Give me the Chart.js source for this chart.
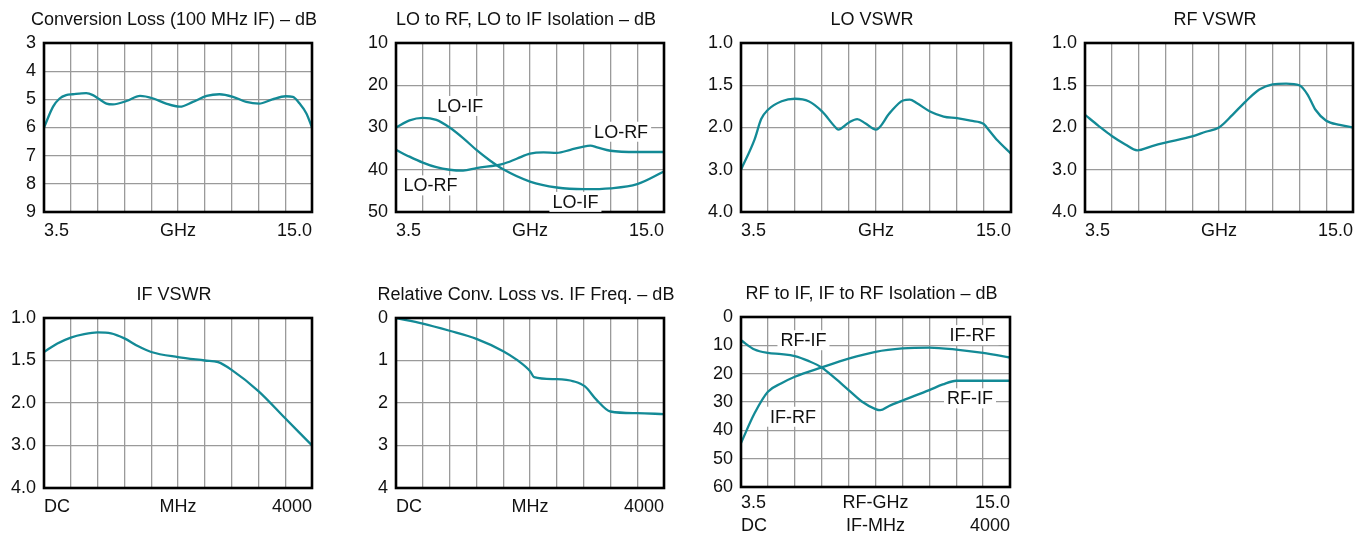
<!DOCTYPE html>
<html>
<head>
<meta charset="utf-8">
<script src="https://cdn.jsdelivr.net/npm/chart.js@4/dist/chart.umd.min.js"></script>
<style>
  body { margin: 0; background: #fff; width: 1364px; height: 535px; position: relative; overflow: hidden; }
  .box { position: absolute; }
</style>
</head>
<body>
<div class="box" id="b1"><canvas id="c1"></canvas></div>
<div class="box" id="b2"><canvas id="c2"></canvas></div>
<div class="box" id="b3"><canvas id="c3"></canvas></div>
<div class="box" id="b4"><canvas id="c4"></canvas></div>
<div class="box" id="b5"><canvas id="c5"></canvas></div>
<div class="box" id="b6"><canvas id="c6"></canvas></div>
<div class="box" id="b7"><canvas id="c7"></canvas></div>
<script>
// x grid: 3.5 - 15.0 GHz in 10 divisions, IF axis DC - 4000 MHz
const ghzGrid = [3.5, 4.65, 5.8, 6.95, 8.1, 9.25, 10.4, 11.55, 12.7, 13.85, 15.0];
const vswrTicks = [1.0, 1.5, 2.0, 3.0, 4.0];

// Conversion loss (100 MHz IF), dB
const convGhz = [3.5, 3.89, 4.17, 4.45, 4.74, 5.31, 5.6, 5.86, 6.18, 6.46, 7.04, 7.62, 8.19, 8.74, 9.33, 9.89, 10.48, 11.03, 11.61, 12.18, 12.73, 13.3, 13.87, 14.18, 14.47, 14.76, 15.0];
const convLoss = [6.0, 5.26, 4.97, 4.85, 4.82, 4.78, 4.85, 4.99, 5.15, 5.18, 5.06, 4.88, 4.97, 5.15, 5.26, 5.09, 4.88, 4.82, 4.91, 5.09, 5.15, 5.0, 4.89, 4.91, 5.15, 5.5, 6.0];

// LO-IF / LO-RF isolation, dB
const loIfGhz = [3.5, 4.08, 4.65, 5.23, 5.8, 6.38, 6.95, 7.53, 8.1, 9.25, 10.4, 11.55, 12.7, 13.85, 15.0];
const loIfIso = [30.0, 28.3, 27.7, 28.2, 30.0, 32.5, 35.3, 37.8, 39.9, 42.8, 44.2, 44.6, 44.4, 43.4, 40.4];
const loRfGhz = [3.5, 4.08, 4.65, 5.23, 5.8, 6.38, 6.95, 8.1, 8.68, 9.25, 9.83, 10.4, 10.98, 11.55, 11.84, 12.13, 12.7, 13.85, 15.0];
const loRfIso = [35.3, 36.9, 38.3, 39.4, 40.0, 40.2, 39.6, 38.6, 37.4, 36.2, 35.9, 36.0, 35.3, 34.5, 34.3, 34.7, 35.5, 35.8, 35.8];

// LO VSWR
const loVswrGhz = [3.5, 4.08, 4.36, 4.65, 5.23, 5.8, 6.38, 6.95, 7.53, 7.64, 8.1, 8.45, 8.79, 9.25, 9.83, 10.4, 10.69, 10.98, 11.55, 12.13, 12.7, 13.28, 13.85, 13.97, 14.43, 15.0];
const loVswr = [3.0, 2.28, 1.9, 1.79, 1.69, 1.66, 1.69, 1.81, 2.0, 2.05, 1.94, 1.9, 1.95, 2.05, 1.83, 1.68, 1.67, 1.71, 1.81, 1.87, 1.89, 1.92, 1.96, 2.0, 2.31, 2.62];

// RF VSWR
const rfVswrGhz = [3.5, 4.08, 4.65, 5.23, 5.74, 6.38, 6.95, 8.1, 8.68, 9.25, 9.83, 10.4, 10.98, 11.55, 12.13, 12.7, 13.05, 13.39, 13.85, 14.43, 15.0];
const rfVswr = [1.85, 1.98, 2.2, 2.4, 2.54, 2.44, 2.36, 2.21, 2.1, 2.0, 1.85, 1.69, 1.55, 1.49, 1.48, 1.5, 1.61, 1.79, 1.92, 1.97, 2.0];

// IF VSWR
const ifVswrMhz = [0, 200, 400, 600, 800, 1000, 1200, 1400, 1600, 2000, 2400, 2600, 2800, 3200, 3600, 4000];
const ifVswr = [1.4, 1.3, 1.23, 1.19, 1.17, 1.18, 1.24, 1.33, 1.4, 1.46, 1.5, 1.52, 1.61, 1.86, 2.36, 3.0];

// relative conversion loss vs IF, dB
const relMhz = [0, 400, 800, 1200, 1600, 1800, 2000, 2060, 2400, 2650, 2820, 2990, 3200, 3600, 4000];
const relLoss = [0, 0.13, 0.3, 0.49, 0.78, 0.98, 1.25, 1.39, 1.44, 1.49, 1.61, 1.92, 2.2, 2.24, 2.26];

// RF-IF / IF-RF isolation, dB
const rfIfGhz = [3.5, 4.08, 4.65, 5.23, 5.8, 6.38, 6.95, 7.53, 8.1, 8.68, 9.25, 9.45, 9.83, 10.4, 11.55, 12.13, 12.7, 13.85, 15.0];
const rfIfIso = [8.2, 11.5, 12.7, 13.1, 13.8, 15.5, 17.8, 21.7, 25.8, 29.9, 32.5, 32.9, 31.4, 29.5, 25.8, 23.8, 22.5, 22.5, 22.5];
const ifRfGhz = [3.5, 4.08, 4.65, 5.23, 5.8, 6.95, 8.1, 9.25, 10.4, 11.55, 12.7, 13.85, 15.0];
const ifRfIso = [44.5, 34.0, 26.4, 23.4, 21.1, 17.8, 14.7, 12.3, 11.1, 10.8, 11.5, 12.7, 14.3];

// curve names written inside the plots
const loIsoNotes = [
  { text: 'LO-IF', x: 6.26, y: 24.9 },
  { text: 'LO-RF', x: 13.16, y: 31.0 },
  { text: 'LO-RF', x: 4.98, y: 43.7 },
  { text: 'LO-IF', x: 11.2, y: 47.6 }
];
const rfIsoNotes = [
  { text: 'RF-IF', x: 6.17, y: 8.2 },
  { text: 'IF-RF', x: 13.4, y: 6.4 },
  { text: 'RF-IF', x: 13.29, y: 28.7 },
  { text: 'IF-RF', x: 5.72, y: 35.2 }
];

const teal = '#138a96';
const FONT = "'Liberation Sans', Arial, sans-serif";
const FS = 18;
Chart.defaults.font.family = FONT;
Chart.defaults.font.size = FS;
Chart.defaults.color = '#111';

function vswrPos(v) {
  for (let i = 0; i < vswrTicks.length - 1; i++) {
    const a = vswrTicks[i], b = vswrTicks[i + 1];
    if (v <= b) return i + (v - a) / (b - a);
  }
  return vswrTicks.length - 1;
}

const framePlugin = {
  id: 'frame',
  afterDatasetsDraw(chart) {
    const a = chart.chartArea, ctx = chart.ctx;
    ctx.save();
    ctx.strokeStyle = '#000';
    ctx.lineWidth = 2.6;
    ctx.strokeRect(a.left, a.top, a.right - a.left, a.bottom - a.top);
    ctx.restore();
  }
};

const notePlugin = {
  id: 'notes',
  afterDatasetsDraw(chart, args, opts) {
    const items = opts.items || [];
    const ctx = chart.ctx;
    ctx.save();
    ctx.font = FS + 'px ' + FONT;
    ctx.textAlign = 'center';
    ctx.textBaseline = 'middle';
    items.forEach(n => {
      const x = chart.scales.x.getPixelForValue(n.x);
      const y = chart.scales.y.getPixelForValue(n.y);
      const w = ctx.measureText(n.text).width;
      ctx.fillStyle = '#fff';
      ctx.fillRect(x - w / 2 - 3, y - 10, w + 6, 20);
      ctx.fillStyle = '#111';
      ctx.fillText(n.text, x, y + 1);
    });
    ctx.restore();
  }
};

// y axis width, empty right axis (keeps the title centred a bit left of the plot), title block height
const YW = 40, RW = 32, TH = 34;

function makeChart(n, rect, cfg) {
  const xh = cfg.xh || 30;
  const box = document.getElementById('b' + n);
  box.style.left = (rect.l - YW) + 'px';
  box.style.top = (rect.t - TH) + 'px';
  box.style.width = (rect.r - rect.l + YW + RW) + 'px';
  box.style.height = (TH + rect.b - rect.t + xh) + 'px';

  let xScale;
  if (cfg.xType === 'mhz') {
    xScale = {
      type: 'linear', min: 0, max: 4000,
      ticks: { stepSize: 400, autoSkip: false, maxRotation: 0, align: 'inner', padding: 8,
        callback: v => v === 0 ? 'DC' : v === 2000 ? 'MHz' : v === 4000 ? '4000' : '' }
    };
  } else {
    const names = cfg.xType === 'dual'
      ? { 0: ['3.5', 'DC'], 5: ['RF-GHz', 'IF-MHz'], 10: ['15.0', '4000'] }
      : { 0: '3.5', 5: 'GHz', 10: '15.0' };
    xScale = {
      type: 'linear', min: 3.5, max: 15.0,
      afterBuildTicks: ax => { ax.ticks = ghzGrid.map(v => ({ value: v })); },
      ticks: { autoSkip: false, maxRotation: 0, align: 'inner', padding: cfg.xType === 'dual' ? 4 : 8,
        font: { lineHeight: cfg.xType === 'dual' ? 1.3 : 1.2 },
        callback: (v, i) => names[i] !== undefined ? names[i] : '' }
    };
  }
  xScale.grid = { color: '#9a9a9a', lineWidth: 1.3, drawTicks: false };
  xScale.border = { display: false };
  xScale.afterFit = s => { s.height = xh; s.paddingLeft = 0; s.paddingRight = 0; };

  const yScale = {
    type: 'linear', reverse: true, min: cfg.y.min, max: cfg.y.max,
    grid: { color: '#9a9a9a', lineWidth: 1.3, drawTicks: false },
    border: { display: false },
    ticks: { stepSize: cfg.y.step, padding: 8, autoSkip: false,
      callback: cfg.y.labels ? (v => cfg.y.labels[Math.round(v)]) : (v => String(v)) },
    afterFit: s => { s.width = YW; }
  };

  // blank axis on the right, only takes room
  const rightScale = {
    type: 'linear', position: 'right', min: 0, max: 1,
    grid: { display: false }, border: { display: false }, ticks: { display: false },
    afterFit: s => { s.width = RW; }
  };

  new Chart(document.getElementById('c' + n), {
    type: 'line',
    data: {
      datasets: cfg.series.map(s => ({
        data: s.x.map((x, i) => ({ x: x, y: s.y[i] })),
        borderColor: teal,
        borderWidth: 2.3,
        pointRadius: 0,
        fill: false,
        cubicInterpolationMode: 'monotone'
      }))
    },
    options: {
      responsive: true,
      maintainAspectRatio: false,
      animation: false,
      layout: { padding: 0 },
      scales: { x: xScale, y: yScale, yR: rightScale },
      plugins: {
        legend: { display: false },
        tooltip: { enabled: false },
        title: { display: true, text: cfg.title, color: '#111',
          font: { size: FS, weight: 'normal', lineHeight: 1.2 }, padding: { top: 0, bottom: TH - FS * 1.2 } },
        notes: { items: cfg.notes || [] }
      }
    },
    plugins: [framePlugin, notePlugin]
  });
}

const vswrAxis = { min: 0, max: 4, step: 1, labels: vswrTicks.map(v => v.toFixed(1)) };

makeChart(1, { l: 44, r: 312, t: 43, b: 212 }, {
  title: 'Conversion Loss (100 MHz IF) – dB', xType: 'ghz',
  y: { min: 3, max: 9, step: 1 },
  series: [{ x: convGhz, y: convLoss }]
});
makeChart(2, { l: 396, r: 664, t: 43, b: 212 }, {
  title: 'LO to RF, LO to IF Isolation – dB', xType: 'ghz',
  y: { min: 10, max: 50, step: 10 },
  series: [{ x: loIfGhz, y: loIfIso }, { x: loRfGhz, y: loRfIso }],
  notes: loIsoNotes
});
makeChart(3, { l: 741, r: 1011, t: 43, b: 212 }, {
  title: 'LO VSWR', xType: 'ghz', y: vswrAxis,
  series: [{ x: loVswrGhz, y: loVswr.map(vswrPos) }]
});
makeChart(4, { l: 1085, r: 1353, t: 43, b: 212 }, {
  title: 'RF VSWR', xType: 'ghz', y: vswrAxis,
  series: [{ x: rfVswrGhz, y: rfVswr.map(vswrPos) }]
});
makeChart(5, { l: 44, r: 312, t: 318, b: 488 }, {
  title: 'IF VSWR', xType: 'mhz', y: vswrAxis,
  series: [{ x: ifVswrMhz, y: ifVswr.map(vswrPos) }]
});
makeChart(6, { l: 396, r: 664, t: 318, b: 488 }, {
  title: 'Relative Conv. Loss vs. IF Freq. – dB', xType: 'mhz',
  y: { min: 0, max: 4, step: 1 },
  series: [{ x: relMhz, y: relLoss }]
});
makeChart(7, { l: 741, r: 1010, t: 317, b: 487 }, {
  title: 'RF to IF, IF to RF Isolation – dB', xType: 'dual', xh: 56,
  y: { min: 0, max: 60, step: 10 },
  series: [{ x: rfIfGhz, y: rfIfIso }, { x: ifRfGhz, y: ifRfIso }],
  notes: rfIsoNotes
});
</script>
</body>
</html>
